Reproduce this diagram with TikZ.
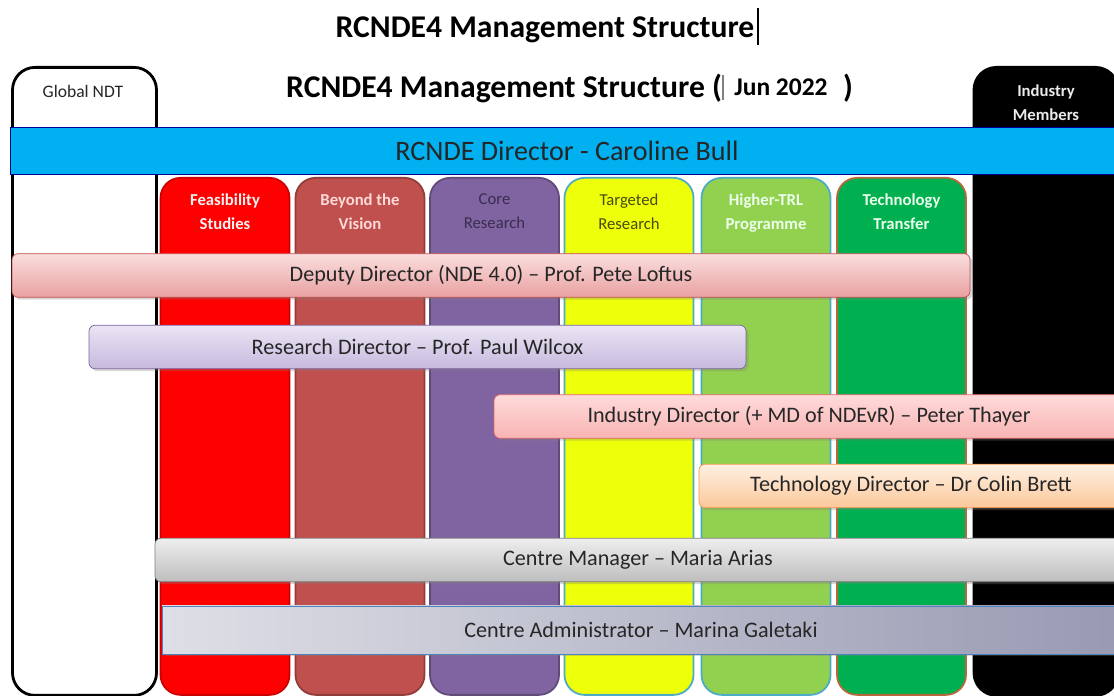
\documentclass[tikz,border=0pt]{standalone}
\usepackage{fontspec}
\setmainfont{Carlito}
\usepackage{tikz}
\usetikzlibrary{shapes,positioning,shadows}

\definecolor{dirblue}{HTML}{00B0F0}
\definecolor{feasred}{HTML}{FF0000}
\definecolor{beyondred}{HTML}{C0504D}
\definecolor{corepurple}{HTML}{8064A2}
\definecolor{targetyellow}{HTML}{EEFF0A}
\definecolor{trlgreen}{HTML}{92D050}
\definecolor{transgreen}{HTML}{00B050}
\definecolor{edgeblue}{HTML}{4BACC6}
\definecolor{bartext}{HTML}{262626}

\tikzstyle{sidebox} = [rectangle, draw, line width=1.6pt, rounded corners=0.45cm, minimum width=2.88cm, minimum height=12.56cm, anchor=north]
\tikzstyle{column} = [rectangle, draw, line width=1pt, rounded corners=0.4cm, minimum width=2.58cm, minimum height=10.34cm, anchor=north]
\tikzstyle{coltext} = [align=center, font=\fontsize{9.5}{13.5}\selectfont\bfseries, inner sep=0pt]
\tikzstyle{bar} = [rectangle, draw, rounded corners=0.12cm, minimum height=0.87cm, font=\fontsize{12.6}{15}\selectfont, text=bartext, drop shadow={shadow xshift=0.05cm, shadow yshift=-0.05cm, opacity=0.3}]
\tikzstyle{caret} = [draw, line width=0.6pt]

\begin{document}
\begin{tikzpicture}
    \clip (0,0) rectangle (22.28,13.92);
    \fill[white] (0,0) rectangle (22.28,13.92);
    % Titles
    \node [font=\fontsize{18}{21}\selectfont\bfseries] (title) at (10.9,13.32) {RCNDE4 Management Structure};
    \node [font=\fontsize{18}{21}\selectfont\bfseries, anchor=west] (subtitle) at (5.6,12.16) {RCNDE4 Management Structure (};
    \node [font=\fontsize{14.5}{17}\selectfont\bfseries] (date) at (15.62,12.18) {Jun 2022};
    \node [font=\fontsize{18}{21}\selectfont\bfseries] (paren) at (16.96,12.16) {)};
    \coordinate (caret1top) at (15.16,13.76);
    \coordinate (caret1bot) at (15.16,13.02);
    \coordinate (caret2top) at (14.46,12.42);
    \coordinate (caret2bot) at (14.46,11.92);
    \path [caret] (caret1top) -- (caret1bot);
    \path [caret, draw=gray] (caret2top) -- (caret2bot);
    % Side boxes
    \node [sidebox, fill=white] (global) at (1.69,12.6) {};
    \node [font=\fontsize{10}{12}\selectfont, text=bartext] (globaltext) at (1.66,12.1) {Global NDT};
    \node [sidebox, fill=black] (industry) at (20.92,12.6) {};
    \node [font=\fontsize{9.5}{13.5}\selectfont\bfseries, text=white!92!black, align=center] (industrytext) at (20.92,11.86) {Industry\\Members};
    % Director
    \node [rectangle, draw=blue!60!black, fill=dirblue, minimum width=22.28cm, minimum height=0.94cm, font=\fontsize{16}{19}\selectfont, text=bartext] (director) at (11.34,10.91) {RCNDE Director - Caroline Bull};
    % Place columns
    \node [column, fill=feasred, draw=red!80!black] (feas) at (4.50,10.38) {};
    \node [column, fill=beyondred, draw=beyondred!75!black] (beyond) at (7.20,10.38) {};
    \node [column, fill=corepurple, draw=corepurple!75!black] (core) at (9.89,10.38) {};
    \node [column, fill=targetyellow, draw=edgeblue] (target) at (12.58,10.38) {};
    \node [column, fill=trlgreen, draw=edgeblue] (trl) at (15.32,10.38) {};
    \node [column, fill=transgreen, draw={rgb,255:red,184;green,105;blue,59}] (transfer) at (18.03,10.38) {};
    \node [coltext, text=white!95!black, below=0.33cm of feas.north] (feastext) {Feasibility\\Studies};
    \node [coltext, text=red!15!white, below=0.33cm of beyond.north] (beyondtext) {Beyond the\\Vision};
    \node [coltext, text={rgb,255:red,58;green,45;blue,78}, font=\fontsize{9.5}{13.5}\selectfont, below=0.33cm of core.north] (coretext) {Core\\Research};
    \node [coltext, text={rgb,255:red,74;green,74;blue,16}, font=\fontsize{9.5}{13.5}\selectfont, below=0.33cm of target.north] (targettext) {Targeted\\Research};
    \node [coltext, text=green!8!white, below=0.33cm of trl.north] (trltext) {Higher-TRL\\Programme};
    \node [coltext, text=green!8!white, below=0.33cm of transfer.north] (transfertext) {Technology\\Transfer};
    % Place role bars
    \node [bar, draw=beyondred, top color={rgb,255:red,250;green,222;blue,222}, bottom color={rgb,255:red,233;green,160;blue,160}, minimum width=19.16cm] (deputy) at (9.82,8.41) {Deputy Director (NDE 4.0) -- Prof. Pete Loftus};
    \node [bar, draw=corepurple, top color={rgb,255:red,234;green,229;blue,243}, bottom color={rgb,255:red,199;green,185;blue,222}, minimum width=13.14cm] (research) at (8.35,6.98) {Research Director -- Prof. Paul Wilcox};
    \node [bar, draw={rgb,255:red,224;green,102;blue,102}, top color={rgb,255:red,255;green,218;blue,218}, bottom color={rgb,255:red,248;green,180;blue,180}, minimum width=12.6cm] (indusdir) at (16.18,5.59) {Industry Director (+ MD of NDEvR) -- Peter Thayer};
    \node [bar, draw={rgb,255:red,247;green,150;blue,70}, top color={rgb,255:red,255;green,240;blue,226}, bottom color={rgb,255:red,251;green,200;blue,155}, minimum width=8.48cm] (techdir) at (18.22,4.2) {Technology Director -- Dr Colin Brett};
    \node [bar, draw=gray, top color={rgb,255:red,238;green,238;blue,238}, bottom color={rgb,255:red,190;green,190;blue,190}, minimum width=19.32cm] (manager) at (12.76,2.72) {Centre Manager -- Maria Arias};
    \node [bar, rounded corners=0pt, drop shadow={opacity=0}, draw={rgb,255:red,79;green,129;blue,189}, left color={rgb,255:red,222;green,223;blue,230}, right color={rgb,255:red,151;green,154;blue,178}, minimum width=19.16cm, minimum height=0.96cm] (admin) at (12.82,1.32) {Centre Administrator -- Marina Galetaki};
\end{tikzpicture}
\end{document}
